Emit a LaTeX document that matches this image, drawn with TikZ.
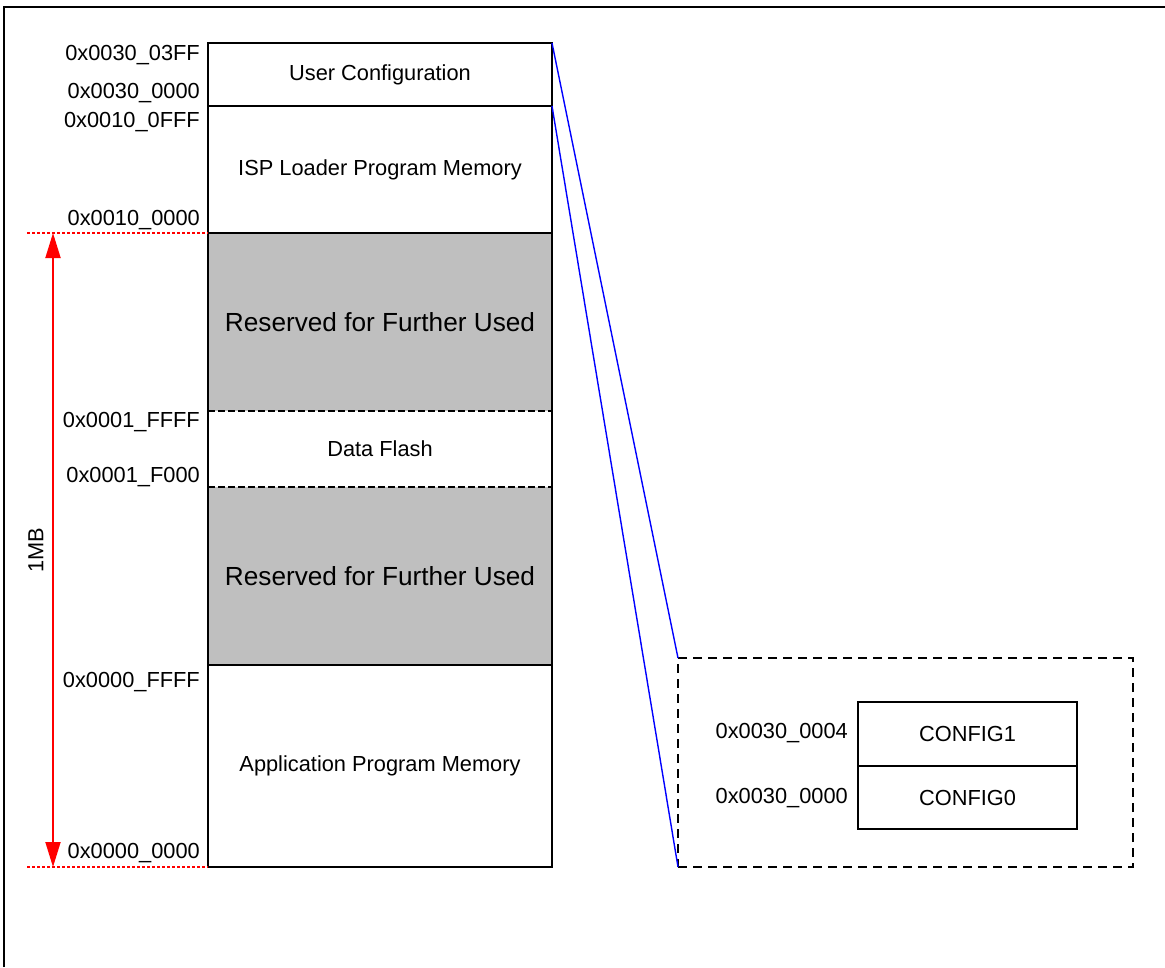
\documentclass[tikz,border=0pt]{standalone}
\usepackage{fontspec}
\setmainfont{Liberation Sans}
\usetikzlibrary{positioning,arrows.meta}

\begin{document}
\begin{tikzpicture}[x=1pt,y=-1pt,
memblock/.style={rectangle, outer sep=0pt, inner sep=0pt, minimum width=344pt,
  font=\fontsize{21.8}{26}\selectfont},
reserved/.style={fill=gray!50, font=\fontsize{26.2}{31}\selectfont},
addr/.style={anchor=east, inner sep=0pt, font=\fontsize{21.8}{26}\selectfont},
cfgreg/.style={draw, line width=1.3pt, rectangle, outer sep=0pt, minimum width=219pt,
  font=\fontsize{21.8}{26}\selectfont},
boundary/.style={draw=red, line width=1.2pt, dash pattern=on 3pt off 2pt}]
    \useasboundingbox (0,0) rectangle (1165,967);
    \draw[line width=2.5pt] (4,967) -- (4,7) -- (1165,7);

    % memory map
    \node [memblock, minimum height=63pt] (ucfg) at (380,74.5) {User Configuration};
    \node [memblock, minimum height=127pt, below=0pt of ucfg] (isp) {ISP Loader Program Memory};
    \node [memblock, reserved, minimum height=178pt, below=0pt of isp] (resv1) {Reserved for Further Used};
    \node [memblock, minimum height=76pt, below=0pt of resv1] (dflash) {Data Flash};
    \node [memblock, reserved, minimum height=178pt, below=0pt of dflash] (resv0) {Reserved for Further Used};
    \node [memblock, minimum height=202pt, below=0pt of resv0] (aprom) {Application Program Memory};
    \draw [line width=1.5pt] (ucfg.north west) rectangle (aprom.south east);
    \draw [line width=1.5pt] (isp.north west) -- (isp.north east);
    \draw [line width=1.5pt] (resv1.north west) -- (resv1.north east);
    \draw [line width=1.5pt] (aprom.north west) -- (aprom.north east);
    \draw [line width=1.3pt, dash pattern=on 7pt off 3pt] (dflash.north west) -- (dflash.north east);
    \draw [line width=1.3pt, dash pattern=on 7pt off 3pt] (dflash.south west) -- (dflash.south east);

    % addresses
    \node [addr] (a1) at (200,55) {0x0030\_03FF};
    \node [addr] (a2) at (200,93) {0x0030\_0000};
    \node [addr] (a3) at (200,122) {0x0010\_0FFF};
    \node [addr] (a4) at (200,220) {0x0010\_0000};
    \node [addr] (a5) at (200,422) {0x0001\_FFFF};
    \node [addr] (a6) at (200,477) {0x0001\_F000};
    \node [addr] (a7) at (200,682) {0x0000\_FFFF};
    \node [addr] (a8) at (200,853) {0x0000\_0000};

    % 1MB span
    \coordinate (topmark) at (27,233);
    \coordinate (botmark) at (27,867);
    \draw [boundary] (topmark) -- (resv1.north west);
    \draw [boundary] (botmark) -- (aprom.south west);
    \coordinate (arrtop) at (53,233);
    \coordinate (arrbot) at (53,867);
    \draw [red, line width=1.8pt, {Triangle[length=25pt,width=15pt]}-{Triangle[length=25pt,width=15pt]}] (arrtop) -- (arrbot);
    \node [rotate=90, inner sep=0pt, font=\fontsize{21.8}{26}\selectfont] (size) at (36,550) {1MB};

    % config registers
    \node [draw, dash pattern=on 9pt off 6pt, line width=1.3pt, rectangle, outer sep=0pt,
      minimum width=455pt, minimum height=209pt] (cfgbox) at (905.5,762.5) {};
    \node [cfgreg, minimum height=64pt] (cfg1) at (967.5,734) {CONFIG1};
    \node [cfgreg, minimum height=63pt, below=0pt of cfg1] (cfg0) {CONFIG0};
    \node [addr] (c1) at (848,733) {0x0030\_0004};
    \node [addr] (c0) at (848,798) {0x0030\_0000};

    \draw [blue, line width=1.4pt] (ucfg.north east) -- (cfgbox.north west);
    \draw [blue, line width=1.4pt] (ucfg.south east) -- (cfgbox.south west);
\end{tikzpicture}
\end{document}
